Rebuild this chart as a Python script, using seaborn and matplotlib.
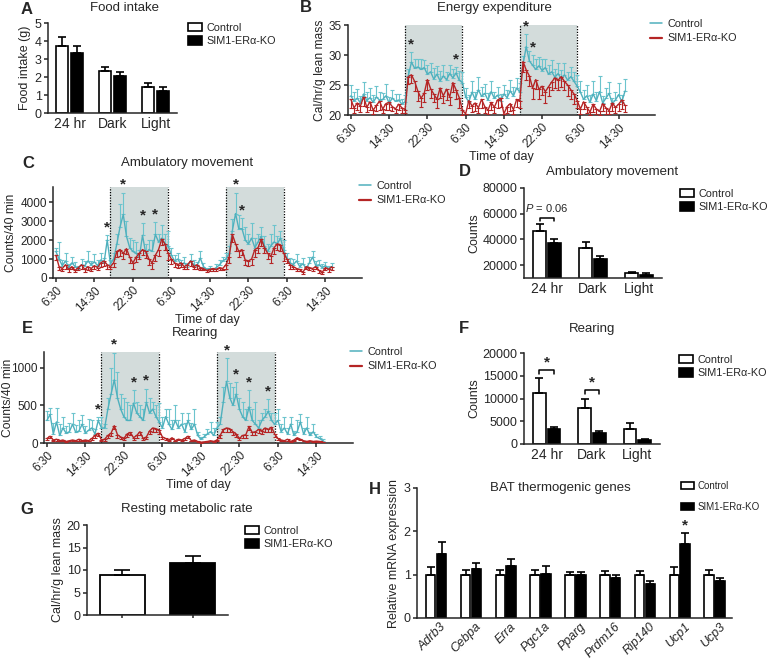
import numpy as np
import pandas as pd
import matplotlib
matplotlib.use("Agg")
import matplotlib.pyplot as plt
from matplotlib.lines import Line2D
from matplotlib.patches import Patch
import seaborn as sns

sns.set_style("ticks")
plt.rcParams['font.family'] = ['Liberation Sans', 'DejaVu Sans']
plt.rcParams['mathtext.fontset'] = 'custom'
plt.rcParams['mathtext.it'] = 'Liberation Sans:italic'
plt.rcParams['mathtext.rm'] = 'Liberation Sans'
plt.rcParams['axes.linewidth'] = 1.1
plt.rcParams['xtick.major.width'] = 1.1
plt.rcParams['ytick.major.width'] = 1.1
plt.rcParams['xtick.major.size'] = 3
plt.rcParams['ytick.major.size'] = 3
plt.rcParams['xtick.major.pad'] = 1.5
plt.rcParams['ytick.major.pad'] = 1.5

##########################################################################
# data
##########################################################################

groups = ['Control', 'SIM1-ERα-KO']
periods = ['24 hr', 'Dark', 'Light']

# A food intake (g)
food_ctrl = [3.75, 2.33, 1.42]
food_ctrl_sem = [0.47, 0.25, 0.24]
food_ko = [3.33, 2.08, 1.24]
food_ko_sem = [0.39, 0.20, 0.23]

# D ambulatory movement totals
amb_ctrl = [46500, 33000, 14000]
amb_ctrl_sem = [5500, 5300, 1000]
amb_ko = [37500, 25000, 12500]
amb_ko_sem = [3000, 2000, 1200]

# F rearing totals
rear_ctrl = [11100, 8000, 3200]
rear_ctrl_sem = [3400, 2000, 1400]
rear_ko = [3400, 2500, 900]
rear_ko_sem = [400, 300, 200]

# G resting metabolic rate
rmr = [9.0, 11.6]
rmr_sem = [1.1, 1.5]

# H BAT thermogenic genes
genes = ['Adrb3', 'Cebpa', 'Erra', 'Pgc1a', 'Pparg', 'Prdm16', 'Rip140', 'Ucp1', 'Ucp3']
bat_ctrl = [1.0, 1.0, 1.0, 1.0, 1.0, 1.0, 1.0, 1.0, 1.0]
bat_ctrl_sem = [0.17, 0.10, 0.10, 0.10, 0.07, 0.08, 0.08, 0.18, 0.10]
bat_ko = [1.48, 1.13, 1.20, 1.01, 1.00, 0.93, 0.79, 1.70, 0.85]
bat_ko_sem = [0.27, 0.14, 0.17, 0.19, 0.07, 0.07, 0.07, 0.26, 0.08]

# time courses, 40 min bins starting 6:30
bin_minutes = 40
time_ticks = [0, 8, 16, 24, 32, 40, 48, 56]
time_labels = ['6:30', '14:30', '22:30', '6:30', '14:30', '22:30', '6:30', '14:30']
dark_on = [11.3, 35.3]
dark_off = [23.3, 47.3]

# B energy expenditure
ee_ctrl = ([23.2, 22.3, 22.8, 22.0, 23.5, 22.4, 22.9, 22.1, 23.0, 22.5, 22.6, 23.2, 22.0, 22.8, 22.3, 22.5, 21.8, 22.2]
           + [26.5, 28.8, 27.8, 28.0, 27.6, 27.9, 26.8, 27.2, 26.0, 26.8, 25.7, 26.5, 25.9, 26.9, 26.2, 27.0, 25.8, 25.4]
           + [23.0, 22.2, 23.8, 22.6, 24.2, 23.1, 23.6, 22.5, 23.9, 22.8, 23.3, 22.4, 23.5, 22.9, 24.0, 23.2, 24.5, 23.8]
           + [28.4, 31.4, 29.0, 28.3, 27.6, 28.2, 27.4, 27.9, 26.8, 27.2, 26.3, 26.9, 26.0, 26.7, 25.8, 26.4, 25.6, 24.8]
           + [23.8, 22.6, 23.2, 22.1, 23.5, 22.4, 23.9, 22.0, 22.8, 23.6, 21.9, 22.5, 23.4, 22.2, 24.0])
ee_ctrl_sem = ([1.8, 1.5, 1.6, 1.2, 2.0, 1.4, 1.6, 1.2, 1.8, 1.3, 1.1, 1.9, 1.0, 1.4, 1.2, 1.0, 0.9, 1.2]
               + [1.2, 1.7, 1.6, 1.4, 1.8, 1.3, 1.6, 1.5, 1.8, 1.4, 1.6, 1.8, 1.2, 1.5, 1.4, 1.0, 1.6, 1.8]
               + [1.5, 1.2, 1.9, 1.3, 2.1, 1.6, 1.5, 1.2, 1.8, 1.0, 1.4, 1.1, 1.5, 1.2, 1.9, 1.4, 1.7, 1.5]
               + [1.5, 2.1, 1.6, 1.7, 1.8, 1.5, 1.9, 1.4, 1.6, 2.0, 1.3, 1.7, 1.5, 1.9, 1.4, 1.6, 1.5, 1.8]
               + [1.9, 1.6, 1.8, 1.3, 2.2, 1.4, 2.6, 1.2, 1.7, 1.9, 1.0, 1.4, 1.9, 1.2, 2.0])
ee_ko = ([22.6, 21.2, 22.0, 21.5, 23.0, 21.3, 22.2, 20.8, 21.6, 22.3, 21.0, 21.9, 22.1, 21.4, 21.0, 21.8, 21.2, 20.9]
         + [26.4, 26.7, 25.6, 24.0, 22.8, 23.6, 25.9, 24.4, 23.5, 22.6, 24.5, 23.2, 24.3, 23.0, 25.4, 24.2, 22.9, 20.8]
         + [20.2, 22.4, 21.5, 22.0, 21.2, 22.6, 21.4, 20.8, 22.1, 21.3, 22.5, 22.8, 20.2, 21.4, 21.9, 20.9, 22.6, 22.3]
         + [28.9, 27.5, 26.5, 24.5, 25.9, 24.3, 24.8, 23.9, 24.7, 25.5, 26.2, 25.8, 26.4, 25.6, 25.0, 24.2, 23.5, 22.4]
         + [21.0, 22.2, 21.3, 20.5, 21.8, 21.0, 20.6, 21.9, 21.2, 20.7, 22.0, 21.3, 21.8, 22.5, 21.6])
ee_ko_sem = ([1.4, 0.9, 1.2, 1.0, 1.5, 0.8, 1.3, 0.6, 0.9, 1.4, 0.7, 1.1, 1.2, 0.8, 0.7, 1.0, 0.9, 0.6]
             + [1.3, 1.4, 1.6, 1.7, 1.4, 1.5, 1.8, 1.5, 1.3, 1.5, 1.6, 1.2, 1.8, 1.4, 1.5, 1.6, 1.7, 0.8]
             + [0.4, 1.2, 1.0, 1.3, 0.8, 1.4, 1.1, 0.7, 1.2, 0.9, 1.3, 1.5, 0.4, 1.0, 1.2, 0.8, 1.3, 1.1]
             + [1.8, 1.6, 1.7, 1.8, 1.5, 1.6, 1.4, 1.9, 1.5, 1.3, 1.7, 1.6, 1.8, 1.5, 1.9, 1.6, 1.7, 1.3]
             + [0.8, 1.2, 1.0, 0.5, 1.3, 0.9, 0.6, 1.2, 1.0, 0.6, 1.3, 1.0, 1.2, 1.5, 1.1])
ee_stars = [19, 33, 55, 57]

# C ambulatory movement per 40 min
ac_ctrl = ([1400, 1000, 650, 900, 550, 800, 600, 500, 700, 650, 900, 700, 850, 650, 950, 800, 2000, 750]
           + [1000, 1800, 2700, 3350, 2200, 1600, 1400, 1300, 1100, 2250, 1300, 1500, 1400, 2300, 1900, 2100, 1800, 1700]
           + [1200, 900, 1000, 700, 800, 600, 900, 700, 650, 1050, 600, 450, 500, 450, 550, 700, 900, 1000]
           + [1300, 2500, 3400, 2600, 2600, 2000, 1800, 2100, 1600, 1900, 2200, 1700, 1400, 1700, 1900, 1800, 2100, 1500]
           + [1000, 800, 700, 900, 600, 750, 500, 800, 1100, 650, 700, 550, 650, 500, 600])
ac_ctrl_sem = ([200, 900, 300, 400, 200, 300, 250, 150, 300, 250, 500, 200, 400, 300, 350, 250, 250, 200]
               + [300, 500, 1200, 1150, 800, 500, 600, 600, 400, 650, 500, 500, 600, 650, 400, 700, 500, 800]
               + [400, 300, 300, 250, 300, 200, 350, 250, 200, 350, 200, 100, 150, 100, 200, 250, 200, 300]
               + [400, 600, 1100, 700, 550, 700, 500, 800, 500, 400, 500, 500, 400, 600, 900, 400, 400, 500]
               + [300, 250, 300, 350, 200, 300, 150, 300, 350, 250, 250, 200, 200, 150, 200])
ac_ko = ([1200, 600, 500, 700, 450, 600, 400, 550, 700, 450, 600, 500, 650, 550, 800, 900, 700, 600]
         + [800, 1400, 1500, 1300, 1550, 1100, 800, 1100, 1300, 1500, 1400, 1000, 800, 1200, 1500, 2050, 1800, 1300]
         + [1000, 800, 700, 800, 600, 700, 900, 600, 700, 550, 500, 400, 450, 500, 450, 550, 500, 700]
         + [1100, 2300, 1800, 1400, 1500, 950, 900, 1000, 1500, 1600, 2050, 1600, 1300, 1150, 1600, 1800, 1750, 1300]
         + [1000, 700, 600, 500, 450, 300, 600, 550, 500, 600, 400, 300, 550, 450, 600])
ac_ko_sem = ([250, 200, 150, 200, 150, 150, 100, 150, 200, 150, 200, 150, 150, 150, 200, 250, 200, 150]
             + [200, 300, 350, 300, 300, 300, 300, 250, 300, 300, 350, 300, 300, 300, 350, 300, 300, 350]
             + [250, 200, 150, 200, 150, 200, 250, 150, 200, 150, 100, 100, 100, 150, 100, 150, 100, 200]
             + [300, 400, 400, 300, 300, 250, 250, 300, 400, 300, 350, 300, 300, 350, 350, 300, 300, 400]
             + [200, 200, 150, 150, 100, 100, 150, 150, 150, 150, 150, 100, 150, 150, 200])
ac_stars = [16, 21, 27, 31, 56, 58]

# E rearing per 40 min
re_ctrl = ([300, 380, 120, 280, 100, 200, 130, 150, 250, 140, 160, 250, 130, 170, 200, 120, 300, 200]
           + [200, 450, 650, 840, 600, 450, 350, 300, 300, 530, 400, 350, 300, 540, 400, 450, 350, 280]
           + [200, 350, 250, 180, 300, 200, 250, 150, 300, 180, 250, 100, 50, 80, 120, 150, 100, 200]
           + [250, 550, 820, 600, 500, 650, 450, 350, 300, 480, 300, 250, 200, 300, 350, 420, 300, 250]
           + [300, 150, 200, 120, 250, 100, 150, 280, 120, 200, 100, 150, 80, 60, 30])
re_ctrl_sem = ([120, 80, 150, 180, 150, 150, 100, 120, 150, 100, 150, 120, 100, 150, 100, 60, 40, 140]
               + [50, 150, 350, 360, 350, 200, 250, 250, 200, 170, 150, 150, 150, 180, 200, 100, 150, 250]
               + [150, 100, 200, 120, 200, 100, 150, 120, 100, 80, 200, 50, 30, 40, 60, 130, 100, 80]
               + [100, 200, 310, 200, 250, 160, 150, 200, 150, 220, 150, 300, 100, 100, 100, 160, 100, 150]
               + [150, 100, 150, 80, 100, 60, 150, 100, 80, 150, 50, 100, 40, 30, 20])
re_ko = ([60, 90, 40, 50, 30, 40, 20, 30, 40, 30, 50, 30, 40, 30, 60, 100, 130, 40]
         + [50, 100, 130, 230, 110, 80, 60, 120, 140, 70, 100, 150, 60, 80, 160, 200, 190, 170]
         + [80, 60, 40, 70, 30, 50, 40, 60, 90, 30, 40, 20, 10, 15, 20, 30, 20, 40]
         + [100, 180, 200, 190, 150, 120, 60, 100, 110, 220, 140, 150, 180, 160, 200, 180, 210, 120]
         + [60, 40, 30, 50, 20, 40, 70, 50, 30, 20, 30, 20, 25, 20, 15])
re_ko_sem = ([20, 30, 15, 20, 10, 15, 10, 10, 15, 10, 20, 10, 15, 10, 20, 30, 40, 15]
             + [20, 40, 40, 50, 40, 30, 20, 40, 40, 30, 30, 40, 20, 30, 40, 50, 50, 50]
             + [30, 20, 15, 20, 10, 15, 15, 20, 30, 10, 15, 10, 5, 5, 10, 10, 10, 15]
             + [30, 40, 50, 50, 40, 40, 20, 30, 40, 50, 40, 40, 50, 40, 50, 40, 60, 40]
             + [20, 15, 10, 20, 10, 15, 20, 15, 10, 10, 10, 10, 10, 10, 5])
re_stars = [16, 21, 27, 31, 56, 59, 63, 69]

##########################################################################
# styling
##########################################################################

cyan = '#4fb0bd'
cyan_err = '#6cc4cd'
red = '#b52525'
shade = '#d3dcdb'
fs_tick = 9
fs_ts = 8.5   # tick labels on the time-course panels
fs_cat = 10
fs_title = 9.5
fs_lab = 9
fs_leg = 7.8


def px_axes(fig, x0, y0, x1, y1, W=767, H=672):
    # axes from pixel box of the reference (top-left origin)
    return fig.add_axes([x0 / W, 1 - y1 / H, (x1 - x0) / W, (y1 - y0) / H])


def bar_legend(fig, x, y, spacing=0.3, size=fs_leg):
    handles = [Patch(facecolor='white', edgecolor='black', lw=1.2),
               Patch(facecolor='black', edgecolor='black', lw=1.2)]
    fig.legend(handles, groups, loc='upper left', bbox_to_anchor=(x / 767, 1 - y / 672),
               frameon=False, fontsize=size, handlelength=1.3, handleheight=0.8,
               handletextpad=0.4, borderpad=0, borderaxespad=0, labelspacing=spacing)


def line_legend(fig, x, y):
    handles = [Line2D([0], [0], color=cyan, lw=1.1), Line2D([0], [0], color=red, lw=1.6)]
    fig.legend(handles, groups, loc='upper left', bbox_to_anchor=(x / 767, 1 - y / 672),
               frameon=False, fontsize=fs_leg, handlelength=1.1, handletextpad=0.5,
               borderpad=0, borderaxespad=0, labelspacing=0.4)


def grouped_bars(ax, cats, c_vals, c_sem, k_vals, k_sem, width, gap):
    n = len(cats)
    df = pd.DataFrame({'cat': list(cats) * 2,
                       'group': [groups[0]] * n + [groups[1]] * n,
                       'value': list(c_vals) + list(k_vals)})
    sns.barplot(data=df, x='cat', y='value', hue='group', palette=['white', 'black'],
                edgecolor='black', linewidth=1.2, width=width, gap=gap, saturation=1,
                errorbar=None, legend=False, ax=ax)
    bars = sorted(ax.patches, key=lambda p: p.get_x())
    sems = []
    for i in range(n):
        sems += [c_sem[i], k_sem[i]]
    for bar, s in zip(bars, sems):
        xc = bar.get_x() + bar.get_width() / 2
        ax.errorbar(xc, bar.get_height(), yerr=[[0], [s]], fmt='none', ecolor='black',
                    elinewidth=1.2, capsize=3, capthick=1.2, zorder=1)
    ax.set_xlabel('')
    return bars


def time_panel(ax, ctrl, ctrl_sem, ko, ko_sem, stars, ylim, yticks, ylabel, label_x=None):
    n = len(ctrl)
    t = np.arange(n) * bin_minutes / 60
    zeros = np.zeros(n)
    for on, off in zip(dark_on, dark_off):
        ax.axvspan(on, off, color=shade, lw=0, zorder=0)
        ax.axvline(on, color='black', ls=(0, (1, 1.2)), lw=0.9, zorder=1)
        ax.axvline(off, color='black', ls=(0, (1, 1.2)), lw=0.9, zorder=1)
    ax.errorbar(t, ctrl, yerr=[zeros, ctrl_sem], fmt='none', ecolor=cyan_err,
                elinewidth=0.8, capsize=1.6, capthick=0.8, zorder=2)
    ax.errorbar(t, ko, yerr=[ko_sem, zeros], fmt='none', ecolor=red,
                elinewidth=0.8, capsize=1.6, capthick=0.8, zorder=3)
    sns.lineplot(x=t, y=ctrl, ax=ax, color=cyan, lw=1.0, zorder=2)
    sns.lineplot(x=t, y=ko, ax=ax, color=red, lw=1.0, zorder=3)
    pad = (ylim[1] - ylim[0]) * 0.01
    for i in stars:
        ax.text(t[i], ctrl[i] + ctrl_sem[i] + pad, '*', ha='center', va='bottom',
                fontsize=11, fontweight='bold', clip_on=False)
    ax.set_xlim(-0.6, 63.6)
    ax.set_ylim(*ylim)
    ax.set_yticks(yticks)
    ax.set_xticks(time_ticks)
    ax.set_xticklabels(time_labels, rotation=45, ha='right', rotation_mode='anchor')
    ax.tick_params(labelsize=fs_ts)
    ax.set_ylabel(ylabel, fontsize=8.7, labelpad=2)
    if label_x is not None:
        ax.yaxis.set_label_coords(label_x, 0.5)
    ax.set_xlabel('Time of day', fontsize=fs_lab, labelpad=0)
    sns.despine(ax=ax)


def letter(fig, x, y, s):
    fig.text(x / 767, 1 - y / 672, s, fontsize=12, fontweight='heavy', ha='center', va='center')


def title(fig, x, y, s):
    fig.text(x / 767, 1 - y / 672, s, fontsize=fs_title, ha='center', va='center')


##########################################################################
# figure
##########################################################################

fig = plt.figure(figsize=(7.67, 6.72), dpi=100)

# A
axA = px_axes(fig, 48, 23, 177, 113)
grouped_bars(axA, periods, food_ctrl, food_ctrl_sem, food_ko, food_ko_sem, 0.7, 0.15)
axA.set_ylim(0, 5)
axA.set_xlim(-0.5, 2.5)
axA.set_yticks(range(0, 6))
axA.tick_params(axis='y', labelsize=fs_tick)
axA.tick_params(axis='x', labelsize=fs_cat, length=0, pad=3)
axA.set_ylabel('Food intake (g)', fontsize=fs_lab, labelpad=3)
sns.despine(ax=axA)
letter(fig, 27, 9, 'A')
title(fig, 125, 8, 'Food intake')
bar_legend(fig, 188, 23)

# B
axB = px_axes(fig, 348, 25, 655, 115)
time_panel(axB, ee_ctrl, ee_ctrl_sem, ee_ko, ee_ko_sem, ee_stars, (20, 35), [20, 25, 30, 35],
           'Cal/hr/g lean mass')
letter(fig, 306, 8, 'B')
title(fig, 494, 8, 'Energy expenditure')
line_legend(fig, 650, 19)

# C
axC = px_axes(fig, 53, 187, 362, 278)
time_panel(axC, ac_ctrl, ac_ctrl_sem, ac_ko, ac_ko_sem, ac_stars, (0, 4800),
           [0, 1000, 2000, 3000, 4000], 'Counts/40 min', label_x=-0.118)
letter(fig, 28, 163, 'C')
title(fig, 187, 163, 'Ambulatory movement')
line_legend(fig, 359, 181)

# D
axD = px_axes(fig, 524, 188, 662, 278)
barsD = grouped_bars(axD, periods, amb_ctrl, amb_ctrl_sem, amb_ko, amb_ko_sem, 0.65, 0.15)
axD.set_ylim(10000, 80000)
axD.set_xlim(-0.5, 2.5)
axD.set_yticks([20000, 40000, 60000, 80000])
axD.tick_params(axis='y', labelsize=fs_tick)
axD.tick_params(axis='x', labelsize=fs_cat, length=0, pad=3)
axD.set_ylabel('Counts', fontsize=fs_lab, labelpad=2)
sns.despine(ax=axD)
x1 = barsD[0].get_x() + barsD[0].get_width() / 2
x2 = barsD[1].get_x() + barsD[1].get_width() / 2
axD.plot([x1, x1, x2, x2], [54000, 57000, 57000, 54000], color='black', lw=1.1)
axD.text((x1 + x2) / 2, 59500, r'$\it{P}$ = 0.06', ha='center', va='bottom', fontsize=8)
letter(fig, 465, 172, 'D')
title(fig, 612, 172, 'Ambulatory movement')
bar_legend(fig, 680, 189)

# E
axE = px_axes(fig, 44, 352, 353, 443)
time_panel(axE, re_ctrl, re_ctrl_sem, re_ko, re_ko_sem, re_stars, (0, 1210),
           [0, 500, 1000], 'Counts/40 min', label_x=-0.098)
letter(fig, 27, 329, 'E')
title(fig, 195, 333, 'Rearing')
line_legend(fig, 350, 347)

# F
axF = px_axes(fig, 524, 353, 660, 444)
barsF = grouped_bars(axF, periods, rear_ctrl, rear_ctrl_sem, rear_ko, rear_ko_sem, 0.65, 0.15)
axF.set_ylim(0, 20000)
axF.set_xlim(-0.5, 2.5)
axF.set_yticks([0, 5000, 10000, 15000, 20000])
axF.tick_params(axis='y', labelsize=fs_tick)
axF.tick_params(axis='x', labelsize=fs_cat, length=0, pad=3)
axF.set_ylabel('Counts', fontsize=fs_lab, labelpad=2)
sns.despine(ax=axF)
for k, level in zip([0, 2], [16300, 11900]):
    xa = barsF[k].get_x() + barsF[k].get_width() / 2
    xb = barsF[k + 1].get_x() + barsF[k + 1].get_width() / 2
    axF.plot([xa, xa, xb, xb], [level - 1000, level, level, level - 1000], color='black', lw=1.1)
    axF.text((xa + xb) / 2, level + 100, '*', ha='center', va='bottom', fontsize=11, fontweight='bold')
letter(fig, 464, 329, 'F')
title(fig, 592, 329, 'Rearing')
bar_legend(fig, 679, 355)

# G
axG = px_axes(fig, 87, 525, 228, 615)
dfG = pd.DataFrame({'group': groups, 'value': rmr})
sns.barplot(data=dfG, x='group', y='value', hue='group', palette=['white', 'black'],
            edgecolor='black', linewidth=1.3, width=0.64, saturation=1, errorbar=None,
            legend=False, ax=axG)
for bar, s in zip(sorted(axG.patches, key=lambda p: p.get_x()), rmr_sem):
    axG.errorbar(bar.get_x() + bar.get_width() / 2, bar.get_height(), yerr=[[0], [s]],
                 fmt='none', ecolor='black', elinewidth=1.2, capsize=6, capthick=1.2, zorder=1)
axG.set_ylim(0, 20)
axG.set_xlim(-0.5, 1.5)
axG.set_yticks([0, 5, 10, 15, 20])
axG.set_xticklabels(['', ''])
axG.set_xlabel('')
axG.tick_params(axis='y', labelsize=fs_tick)
axG.tick_params(axis='x', length=2)
axG.set_ylabel('Cal/hr/g lean mass', fontsize=fs_lab, labelpad=2)
sns.despine(ax=axG)
letter(fig, 27, 509, 'G')
title(fig, 187, 509, 'Resting metabolic rate')
bar_legend(fig, 245, 526)

# H
axH = px_axes(fig, 417, 488, 732, 618)
barsH = grouped_bars(axH, genes, bat_ctrl, bat_ctrl_sem, bat_ko, bat_ko_sem, 0.62, 0.12)
axH.set_ylim(0, 3)
axH.set_xlim(-0.55, 8.5)
axH.set_yticks([0, 1, 2, 3])
axH.tick_params(axis='y', labelsize=fs_tick)
axH.tick_params(axis='x', labelsize=fs_tick, length=0, pad=2)
axH.set_xticks([i + 0.12 for i in range(len(genes))])
axH.set_xticklabels(genes, rotation=45, ha='right', rotation_mode='anchor', style='italic')
axH.set_ylabel('Relative mRNA expression', fontsize=fs_lab, labelpad=3)
sns.despine(ax=axH)
ucp = barsH[2 * genes.index('Ucp1') + 1]
axH.text(ucp.get_x() + ucp.get_width() / 2, bat_ko[7] + bat_ko_sem[7] + 0.02, '*',
         ha='center', va='bottom', fontsize=11, fontweight='bold')
letter(fig, 375, 489, 'H')
title(fig, 560, 488, 'BAT thermogenic genes')
bar_legend(fig, 681, 481, spacing=1.1, size=7.0)

fig.savefig('out.png', dpi=100)
